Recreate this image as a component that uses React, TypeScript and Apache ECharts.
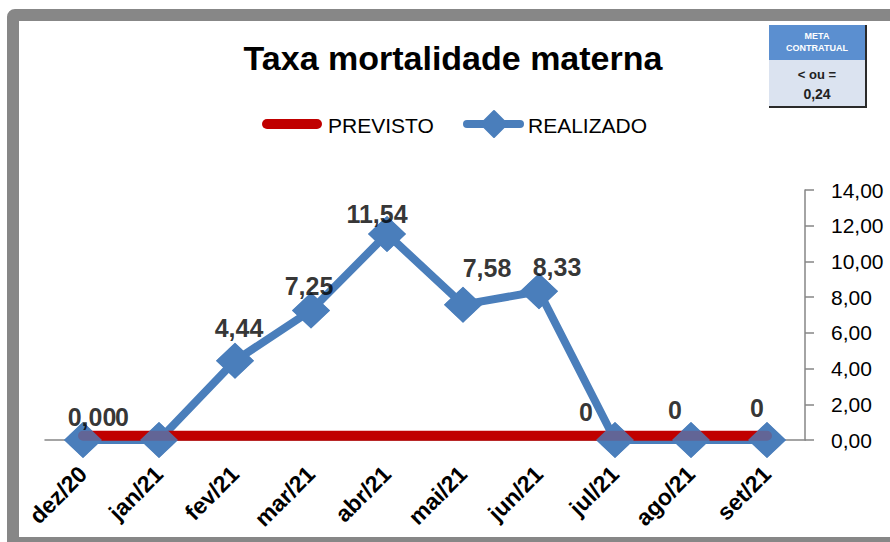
import React, { useEffect, useRef } from "react";
import * as echarts from "echarts";

const categories = ["dez/20", "jan/21", "fev/21", "mar/21", "abr/21", "mai/21", "jun/21", "jul/21", "ago/21", "set/21"];
const realizado = [0, 0, 4.44, 7.25, 11.54, 7.58, 8.33, 0, 0, 0];
const previsto = [0.24, 0.24, 0.24, 0.24, 0.24, 0.24, 0.24, 0.24, 0.24, 0.24];
const labelTexts = ["0,00", "0", "4,44", "7,25", "11,54", "7,58", "8,33", "0", "0", "0"];
const labelOffsets: number[][] = [
  [9, -23], [-37, -23], [4, -33], [-2, -25], [-10, -20],
  [24, -37], [18, -24], [-29, -28], [-16, -30], [-10, -32],
];
const seriesNames = ["PREVISTO", "REALIZADO"];
const titleText = "Taxa mortalidade materna";
const metaLines = ["META", "CONTRATUAL", "< ou =", "0,24"];

const FONT = "'Liberation Sans', Arial, sans-serif";
const BLUE = "#4a7ebb";
const RED = "#c00000";

export default function App() {
  const ref = useRef<HTMLDivElement>(null);
  useEffect(() => {
    if (!ref.current) return;
    const chart = echarts.init(ref.current, undefined, { renderer: "svg" });
    chart.setOption({
      animation: false,
      backgroundColor: "#ffffff",
      textStyle: { fontFamily: FONT },
      grid: { left: 45, right: 85, top: 190, bottom: 102 },
      xAxis: {
        type: "category",
        data: categories,
        boundaryGap: true,
        axisLine: { show: true, lineStyle: { color: "#868686", width: 1.5 } },
        axisTick: { show: false },
        axisLabel: {
          rotate: 45,
          margin: 30,
          interval: 0,
          fontFamily: FONT,
          fontSize: 23,
          fontWeight: "bold",
          color: "#000",
        },
      },
      yAxis: {
        type: "value",
        position: "right",
        min: 0,
        max: 14,
        interval: 2,
        splitLine: { show: false },
        axisLine: { show: true, lineStyle: { color: "#868686", width: 1.5 } },
        axisTick: { show: true, length: 9, lineStyle: { color: "#868686", width: 1.5 } },
        axisLabel: {
          margin: 26,
          fontFamily: FONT,
          fontSize: 21,
          color: "#000",
          formatter: (v: number) => v.toFixed(2).replace(".", ","),
        },
      },
      series: [
        {
          name: seriesNames[0],
          type: "line",
          data: previsto,
          symbol: "none",
          z: 3,
          lineStyle: { color: RED, width: 10, cap: "round" },
          itemStyle: { color: RED },
        },
        {
          name: seriesNames[1],
          type: "line",
          data: realizado,
          symbol: "diamond",
          symbolSize: [38, 36],
          z: 2,
          lineStyle: { color: BLUE, width: 8, cap: "round", join: "round" },
          itemStyle: { color: BLUE },
        },
        {
          name: "marcadores",
          type: "scatter",
          data: realizado.map((v, i) => ({
            value: v,
            label: { offset: labelOffsets[i] },
          })),
          symbol: "diamond",
          symbolSize: [38, 36],
          z: 4,
          itemStyle: { color: BLUE },
          label: {
            show: true,
            position: "inside",
            formatter: (p: any) => labelTexts[p.dataIndex],
            fontFamily: FONT,
            fontSize: 25,
            fontWeight: "bold",
            color: "#000000",
            textBorderWidth: 0,
            textBorderColor: "transparent",
          },
        },
      ],
      graphic: [
        {
          type: "rect",
          shape: { x: 13, y: 15, width: 900, height: 528, r: 2 },
          style: { fill: "none", stroke: "#878787", lineWidth: 12 },
          z: 10,
        },
        {
          type: "text",
          style: {
            x: 453,
            y: 58,
            text: titleText,
            textAlign: "center",
            textVerticalAlign: "middle",
            font: `bold 34px ${FONT}`,
            fill: "#000",
          },
        },
        {
          type: "group",
          children: [
            { type: "line", shape: { x1: 267, y1: 124, x2: 317, y2: 124 }, style: { stroke: RED, lineWidth: 10, lineCap: "round" } },
            { type: "text", style: { x: 328, y: 125, text: seriesNames[0], textVerticalAlign: "middle", font: `21px ${FONT}`, fill: "#000" } },
            { type: "line", shape: { x1: 467, y1: 124, x2: 520, y2: 124 }, style: { stroke: BLUE, lineWidth: 8, lineCap: "round" } },
            { type: "polygon", shape: { points: [[494, 111], [507, 124], [494, 137], [481, 124]] }, style: { fill: BLUE, stroke: BLUE, lineWidth: 2, lineJoin: "round" } },
            { type: "text", style: { x: 528, y: 125, text: seriesNames[1], textVerticalAlign: "middle", font: `21px ${FONT}`, fill: "#000" } },
          ],
        },
        {
          type: "group",
          children: [
            { type: "rect", shape: { x: 769, y: 25, width: 97, height: 35 }, style: { fill: "#5b8fd0" } },
            { type: "rect", shape: { x: 769, y: 60, width: 97, height: 47 }, style: { fill: "#dbe3f0" } },
            { type: "line", shape: { x1: 866, y1: 25, x2: 866, y2: 108 }, style: { stroke: "#2a2a2a", lineWidth: 2 } },
            { type: "line", shape: { x1: 769, y1: 107, x2: 867, y2: 107 }, style: { stroke: "#2a2a2a", lineWidth: 2 } },
            { type: "text", style: { x: 817, y: 36, text: metaLines[0], textAlign: "center", textVerticalAlign: "middle", font: `bold 9px ${FONT}`, fill: "#ffffff" } },
            { type: "text", style: { x: 817, y: 48, text: metaLines[1], textAlign: "center", textVerticalAlign: "middle", font: `bold 9px ${FONT}`, fill: "#ffffff" } },
            { type: "text", style: { x: 817, y: 74, text: metaLines[2], textAlign: "center", textVerticalAlign: "middle", font: `bold 13px ${FONT}`, fill: "#222" } },
            { type: "text", style: { x: 817, y: 94, text: metaLines[3], textAlign: "center", textVerticalAlign: "middle", font: `bold 14px ${FONT}`, fill: "#222" } },
          ],
        },
      ],
    });
    return () => chart.dispose();
  }, []);
  return (
    <div
      ref={ref}
      style={{ position: "absolute", left: 0, top: 0, width: 890, height: 542 }}
    />
  );
}
